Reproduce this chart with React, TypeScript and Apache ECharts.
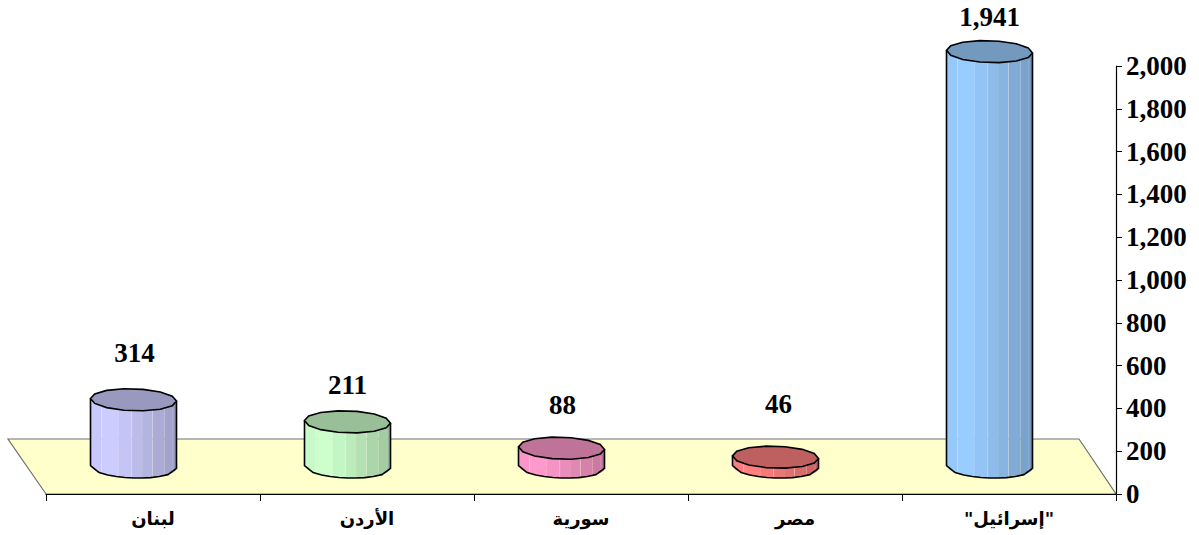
import React, { useEffect, useRef } from "react";
import * as echarts from "echarts";

const categories = ["لبنان", "الأردن", "سورية", "مصر", "\"إسرائيل\""];
const values = [314, 211, 88, 46, 1941];
const valueLabels = ["314", "211", "88", "46", "1,941"];
const cylinderColors = ["#CCCCFF", "#CCFFCC", "#FF99CC", "#FF8080", "#99CCFF"];
const labelLift = [47, 37, 43, 53, 35];
const labelShiftX = [1, 0, 1, 3, 0];
const stripStops = [0, 0.13, 0.33, 0.48, 0.6, 0.72, 0.86, 0.96, 1];
const stripShades = [0.98, 1, 0.96, 0.92, 0.88, 0.84, 0.8, 0.72];

const SERIF = "'Liberation Serif','Times New Roman',serif";
const DEPTH_X = 19.5;
const DEPTH_Y = 27;
const RX = 43;
const RY = 11;
const SLOPE = 0.03;

function shade(hex: string, k: number) {
  const n = parseInt(hex.slice(1), 16);
  const c = [(n >> 16) & 255, (n >> 8) & 255, n & 255].map((v) => Math.round(v * k));
  return `rgb(${c[0]},${c[1]},${c[2]})`;
}

function arcY(cy: number, t: number) {
  return cy + RY * Math.sqrt(Math.max(0, 1 - t * t)) + SLOPE * RX * t;
}

function renderCylinder(params: any, api: any) {
  const idx = api.value(0);
  const val = api.value(1);
  const top = api.coord([idx, val]);
  const base = api.coord([idx, 0]);
  const cx = top[0] - DEPTH_X;
  const topY = top[1] - DEPTH_Y;
  const baseY = base[1] - DEPTH_Y;
  const color = cylinderColors[params.dataIndex];
  const children: any[] = [];

  for (let i = 0; i < stripShades.length; i++) {
    const pts: number[][] = [];
    const a = -1 + 2 * stripStops[i];
    const b = -1 + 2 * stripStops[i + 1];
    pts.push([cx + a * RX, topY + SLOPE * RX * a]);
    pts.push([cx + b * RX, topY + SLOPE * RX * b]);
    for (let s = 4; s >= 0; s--) {
      const t = a + ((b - a) * s) / 4;
      pts.push([cx + t * RX, arcY(baseY, t)]);
    }
    children.push({
      type: "polygon",
      shape: { points: pts },
      style: { fill: shade(color, stripShades[i]), stroke: null },
    });
    if (i > 0 && i % 2 === 1) {
      children.push({
        type: "line",
        shape: { x1: cx + a * RX, y1: topY + 8, x2: cx + a * RX, y2: arcY(baseY, a) },
        style: { stroke: "rgba(255,255,255,0.22)", lineWidth: 1 },
      });
    }
  }

  const outline: number[][] = [[cx - RX, topY - SLOPE * RX]];
  for (let s = 0; s <= 10; s++) {
    const t = -1 + s / 5;
    outline.push([cx + t * RX, arcY(baseY, t)]);
  }
  outline.push([cx + RX, topY + SLOPE * RX]);
  children.push({
    type: "polyline",
    shape: { points: outline },
    style: { fill: null, stroke: "#000", lineWidth: 1.6 },
  });

  const cap: number[][] = [];
  for (let s = 0; s < 14; s++) {
    const a = (s / 14) * Math.PI * 2;
    const px = Math.cos(a);
    cap.push([cx + RX * px, topY + RY * Math.sin(a) + SLOPE * RX * px]);
  }
  children.push({
    type: "polygon",
    shape: { points: cap },
    style: { fill: shade(color, 0.75), stroke: "#000", lineWidth: 1.6 },
  });

  children.push({
    type: "text",
    style: {
      text: valueLabels[params.dataIndex],
      x: cx + labelShiftX[params.dataIndex],
      y: topY - labelLift[params.dataIndex],
      align: "center",
      verticalAlign: "middle",
      font: `bold 27px ${SERIF}`,
      fill: "#000",
    },
  });

  return { type: "group", children };
}

export default function App() {
  const ref = useRef<HTMLDivElement>(null);
  useEffect(() => {
    document.body.style.margin = "0";
    const chart = echarts.init(ref.current!, null, { renderer: "svg" });
    chart.setOption({
      animation: false,
      backgroundColor: "#fff",
      grid: { left: 46, right: 83, top: 66, bottom: 41 },
      graphic: [
        {
          type: "polygon",
          z: -1,
          silent: true,
          shape: { points: [[8, 439], [1079, 439], [1116, 494], [46, 494]] },
          style: { fill: "#FFFFCC", stroke: "#707070", lineWidth: 1.2 },
        },
      ],
      xAxis: {
        type: "category",
        data: categories,
        z: 3,
        axisLine: { show: true, lineStyle: { color: "#000", width: 1.2 } },
        axisTick: { show: true, alignWithLabel: false, length: 7, lineStyle: { color: "#000", width: 1 } },
        axisLabel: {
          fontFamily: "'DejaVu Sans',sans-serif",
          fontWeight: "bold",
          fontSize: 18,
          color: "#000",
          margin: 15,
          interval: 0,
        },
      },
      yAxis: {
        type: "value",
        position: "right",
        min: 0,
        max: 2000,
        interval: 200,
        z: 3,
        splitLine: { show: false },
        axisLine: { show: true, lineStyle: { color: "#000", width: 1.2 } },
        axisTick: { show: true, length: 6, lineStyle: { color: "#000", width: 1 } },
        axisLabel: {
          fontFamily: SERIF,
          fontWeight: "bold",
          fontSize: 27,
          color: "#000",
          margin: 10,
          formatter: (v: number) => v.toLocaleString("en-US"),
        },
      },
      series: [
        {
          type: "custom",
          renderItem: renderCylinder,
          encode: { x: 0, y: 1 },
          z: 5,
          clip: false,
          data: values.map((v, i) => [i, v]),
        },
      ],
    });
    return () => chart.dispose();
  }, []);
  return <div ref={ref} style={{ width: 1199, height: 535 }} />;
}
